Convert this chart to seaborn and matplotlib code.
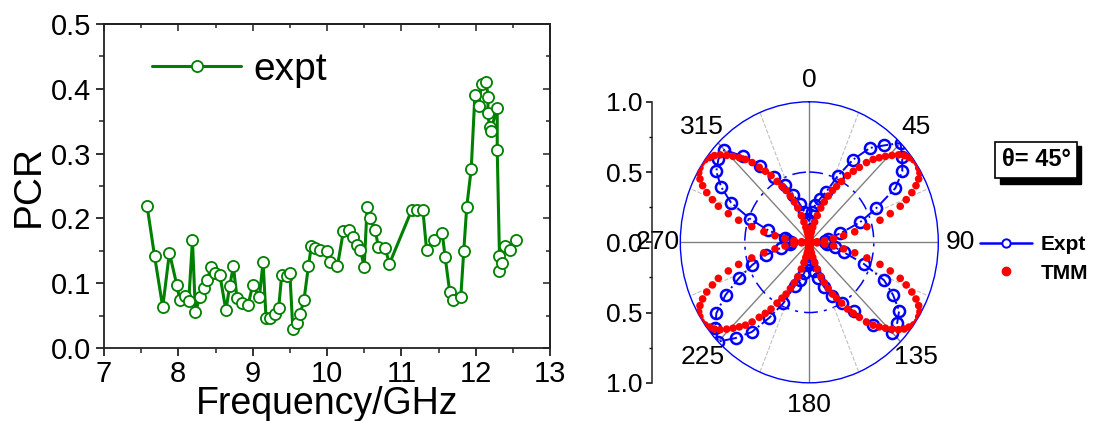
import numpy as np
import pandas as pd
import matplotlib
matplotlib.use("Agg")
import matplotlib.pyplot as plt
from matplotlib.lines import Line2D
from matplotlib.patches import Rectangle
from matplotlib.ticker import MultipleLocator, FixedLocator
import seaborn as sns

# ---------------- data: left panel ----------------
freq = [7.58, 7.68, 7.79, 7.88, 7.98, 8.02, 8.09, 8.14, 8.19, 8.23, 8.29, 8.35, 8.39, 8.44,
        8.49, 8.56, 8.64, 8.69, 8.74, 8.79, 8.85, 8.94, 9.00, 9.09, 9.14, 9.18, 9.23, 9.30,
        9.35, 9.39, 9.46, 9.50, 9.54, 9.59, 9.64, 9.69, 9.75, 9.79, 9.84, 9.91, 10.00, 10.04,
        10.14, 10.22, 10.29, 10.35, 10.40, 10.45, 10.50, 10.54, 10.58, 10.65, 10.69, 10.78,
        10.84, 11.14, 11.21, 11.29, 11.34, 11.44, 11.55, 11.59, 11.65, 11.70, 11.80, 11.84,
        11.88, 11.94, 11.99, 12.04, 12.08, 12.14, 12.17, 12.16, 12.19, 12.20, 12.29, 12.29,
        12.32, 12.32, 12.35, 12.40, 12.46, 12.54]
pcr = [0.219, 0.142, 0.063, 0.147, 0.097, 0.074, 0.080, 0.073, 0.166, 0.055, 0.079, 0.093,
       0.105, 0.125, 0.115, 0.112, 0.058, 0.095, 0.126, 0.077, 0.070, 0.067, 0.097, 0.079,
       0.133, 0.046, 0.046, 0.053, 0.062, 0.112, 0.111, 0.116, 0.030, 0.039, 0.053, 0.074,
       0.126, 0.158, 0.154, 0.151, 0.150, 0.133, 0.126, 0.180, 0.182, 0.171, 0.159, 0.151,
       0.125, 0.218, 0.200, 0.182, 0.156, 0.155, 0.130, 0.213, 0.213, 0.213, 0.151, 0.166,
       0.177, 0.140, 0.087, 0.074, 0.079, 0.150, 0.218, 0.276, 0.391, 0.373, 0.408, 0.410,
       0.387, 0.362, 0.341, 0.335, 0.370, 0.306, 0.142, 0.119, 0.131, 0.157, 0.152, 0.166]
x_ticks = [7, 8, 9, 10, 11, 12, 13]
y_ticks = [0.0, 0.1, 0.2, 0.3, 0.4, 0.5]

# ---------------- data: polar panel ----------------
expt_angle = list(range(0, 360, 5))
expt_r = [0.15, 0.22, 0.27, 0.32, 0.38, 0.52, 0.68, 0.82, 0.90, 1.00, 0.94, 0.88, 0.77, 0.57, 0.42, 0.25, 0.15, 0.12,
          0.12, 0.14, 0.20, 0.28, 0.45, 0.64, 0.75, 0.85, 0.89, 0.91, 0.77, 0.60, 0.50, 0.42, 0.34, 0.26, 0.21, 0.15,
          0.12, 0.16, 0.22, 0.28, 0.33, 0.48, 0.62, 0.78, 0.89, 1.00, 0.95, 0.88, 0.75, 0.60, 0.47, 0.35, 0.22, 0.15,
          0.14, 0.17, 0.19, 0.33, 0.49, 0.67, 0.79, 0.88, 0.92, 0.93, 0.80, 0.66, 0.54, 0.45, 0.36, 0.28, 0.22, 0.17]

tmm_angle = list(range(0, 360, 2))
tmm_r_q1 = [0.00, 0.01, 0.02, 0.03, 0.04, 0.06, 0.08, 0.11, 0.15, 0.20, 0.26, 0.31, 0.36, 0.41, 0.45,
            0.50, 0.56, 0.61, 0.66, 0.72, 0.77, 0.81, 0.85, 0.89, 0.93, 0.96, 0.98, 1.00, 1.01, 1.00,
            0.99, 0.96, 0.92, 0.87, 0.81, 0.75, 0.66, 0.57, 0.46, 0.36, 0.27, 0.19, 0.12, 0.06, 0.02]
tmm_r_q2 = [0.00, 0.02, 0.06, 0.12, 0.19, 0.27, 0.36, 0.46, 0.57, 0.66, 0.75, 0.81, 0.87, 0.92, 0.96,
            0.99, 1.00, 1.01, 1.00, 0.98, 0.96, 0.93, 0.89, 0.85, 0.81, 0.77, 0.72, 0.66, 0.61, 0.56,
            0.50, 0.45, 0.41, 0.36, 0.31, 0.26, 0.20, 0.15, 0.11, 0.08, 0.06, 0.04, 0.03, 0.02, 0.01]
tmm_r_q3 = [0.00, 0.01, 0.02, 0.03, 0.04, 0.06, 0.08, 0.11, 0.15, 0.20, 0.26, 0.31, 0.36, 0.41, 0.45,
            0.50, 0.56, 0.61, 0.66, 0.72, 0.77, 0.81, 0.85, 0.89, 0.93, 0.96, 0.98, 1.00, 1.01, 1.00,
            0.99, 0.96, 0.92, 0.87, 0.81, 0.75, 0.66, 0.57, 0.46, 0.36, 0.27, 0.19, 0.12, 0.06, 0.02]
tmm_r_q4 = [0.00, 0.02, 0.06, 0.12, 0.19, 0.27, 0.36, 0.46, 0.57, 0.66, 0.75, 0.81, 0.87, 0.92, 0.96,
            0.99, 1.00, 1.01, 1.00, 0.98, 0.96, 0.93, 0.89, 0.85, 0.81, 0.77, 0.72, 0.66, 0.61, 0.56,
            0.50, 0.45, 0.41, 0.36, 0.31, 0.26, 0.20, 0.15, 0.11, 0.08, 0.06, 0.04, 0.03, 0.02, 0.01]
tmm_r = tmm_r_q1 + tmm_r_q2 + tmm_r_q3 + tmm_r_q4

theta_ticks = [0, 45, 90, 135, 180, 225, 270, 315]
theta_labels = ["0", "45", "90", "135", "180", "225", "270", "315"]
r_ticks = [-1.0, -0.5, 0.0, 0.5, 1.0]
r_labels = ["1.0", "0.5", "0.0", "0.5", "1.0"]

# ---------------- style ----------------
sns.set_theme(style="ticks")
plt.rcParams["font.family"] = ["Liberation Sans", "DejaVu Sans"]
plt.rcParams["axes.linewidth"] = 1.3
plt.rcParams["text.color"] = "black"
plt.rcParams["axes.labelcolor"] = "black"
plt.rcParams["xtick.color"] = "black"
plt.rcParams["ytick.color"] = "black"

W, H = 1102, 421
fig = plt.figure(figsize=(W / 100, H / 100), dpi=100)

def fx(px):
    return px / W

def fy(py):
    return 1 - py / H

# ---------------- left panel ----------------
ax = fig.add_axes([fx(104), fy(348), fx(550) - fx(104), fy(24) - fy(348)])
df = pd.DataFrame({"Frequency": freq, "PCR": pcr})
green = "#008000"
sns.lineplot(data=df, x="Frequency", y="PCR", ax=ax, sort=False, estimator=None,
             color=green, lw=2.2, marker="o", markersize=8, markerfacecolor="white",
             markeredgecolor=green, markeredgewidth=1.3, label="expt")
ax.set_xlim(7, 13)
ax.set_ylim(0, 0.5)
ax.set_xticks(x_ticks)
ax.set_yticks(y_ticks)
ax.set_yticklabels([f"{v:.1f}" for v in y_ticks])
ax.xaxis.set_minor_locator(MultipleLocator(0.5))
ax.yaxis.set_minor_locator(MultipleLocator(0.05))
ax.tick_params(which="major", direction="out", length=6, width=1.3, labelsize=21,
               colors="#222222", labelcolor="black", pad=3)
ax.tick_params(which="minor", direction="out", length=3.5, width=1.1, colors="#222222")
for s in ax.spines.values():
    s.set_color("#222222")
    s.set_linewidth(1.3)
sx = ax.secondary_xaxis("top")
sx.set_xticks(x_ticks)
sx.xaxis.set_minor_locator(MultipleLocator(0.5))
sx.tick_params(which="both", direction="in", labeltop=False, colors="#222222", width=1.1)
sx.tick_params(which="major", length=5)
sx.tick_params(which="minor", length=3)
sy = ax.secondary_yaxis("right")
sy.set_yticks(y_ticks)
sy.yaxis.set_minor_locator(MultipleLocator(0.05))
sy.tick_params(which="both", direction="in", labelright=False, colors="#222222", width=1.1)
sy.tick_params(which="major", length=5)
sy.tick_params(which="minor", length=3)
ax.set_xlabel("Frequency/GHz", fontsize=27, labelpad=-2, color="black")
ax.set_ylabel("PCR", fontsize=28, labelpad=3, color="black")
leg = ax.legend(loc="center left", bbox_to_anchor=((152 - 104) / 446, 1 - (70 - 24) / 324),
                frameon=False, fontsize=28, handlelength=2.3, handletextpad=0.3,
                borderpad=0, borderaxespad=0)
for t in leg.get_texts():
    t.set_color("black")

# ---------------- polar panel ----------------
axp = fig.add_axes([fx(680.3), fy(382.8), (938.3 - 680.3) / W, (382.8 - 101.8) / H],
                   projection="polar")
axp.set_theta_zero_location("N")
axp.set_theta_direction(-1)

# light dashed guide lines at 22.5 deg offsets
for a in [22.5, 67.5, 112.5, 157.5, 202.5, 247.5, 292.5, 337.5]:
    axp.plot([np.deg2rad(a)] * 2, [0.5, 1.0], color="#c0c0c0", ls="--", lw=0.8, zorder=1)

th_e = np.deg2rad(np.array(expt_angle + expt_angle[:1]))
r_e = np.array(expt_r + expt_r[:1])
sns.lineplot(x=th_e, y=r_e, ax=axp, sort=False, estimator=None, color="blue", lw=1.4,
             linestyle="-.", marker="o", markersize=8, markerfacecolor="none",
             markeredgecolor="blue", markeredgewidth=1.8, zorder=3)
sns.scatterplot(x=np.deg2rad(np.array(tmm_angle)), y=np.array(tmm_r), ax=axp,
                color="red", s=30, edgecolor="none", zorder=4)
axp.set_xlabel("")
axp.set_ylabel("")
axp.set_ylim(0, 1)
axp.set_thetagrids(theta_ticks, labels=theta_labels, fontsize=19)
axp.set_rgrids([0.5])
axp.set_yticklabels([])
axp.xaxis.grid(True, color="#808080", ls="-", lw=1.0)
axp.yaxis.grid(True, color="blue", ls=(0, (9, 4, 2, 4)), lw=1.1)
axp.tick_params(axis="x", length=0, pad=9, labelsize=19, labelcolor="black")
axp.spines["polar"].set_color("blue")
axp.spines["polar"].set_linewidth(1.0)
axp.set_facecolor("white")
axp.set_aspect("auto")
if axp.get_legend() is not None:
    axp.get_legend().remove()

# radial scale on the left
axr = fig.add_axes([fx(652), fy(382.8), 0.001, (382.8 - 101.8) / H])
axr.set_ylim(-1, 1)
axr.set_xticks([])
axr.set_yticks(r_ticks)
axr.set_yticklabels(r_labels)
axr.yaxis.set_minor_locator(FixedLocator([-0.75, -0.25, 0.25, 0.75]))
axr.tick_params(axis="y", which="major", direction="out", length=4, width=1.1, labelsize=19,
                pad=3, labelcolor="black")
axr.tick_params(axis="y", which="minor", direction="out", length=2.5, width=1.0)
for k in ["top", "right", "bottom"]:
    axr.spines[k].set_visible(False)
axr.spines["left"].set_linewidth(1.1)
axr.spines["left"].set_color("#222222")
axr.patch.set_visible(False)

# theta box with shadow
fig.patches.append(Rectangle((fx(1000), fy(184)), 81 / W, 38 / H, transform=fig.transFigure,
                             facecolor="black", edgecolor="black", zorder=5))
fig.patches.append(Rectangle((fx(995), fy(178.3)), 81.7 / W, 36.6 / H, transform=fig.transFigure,
                             facecolor="white", edgecolor="black", lw=1.2, zorder=6))
fig.text(fx(1036), fy(160), "θ= 45°", ha="center", va="center", fontsize=17,
         fontweight="bold", color="black", zorder=7)

# polar legend
handles = [Line2D([0], [0], color="blue", lw=1.8, marker="o", markersize=6,
                  markerfacecolor="white", markeredgecolor="blue", markeredgewidth=1.4),
           Line2D([0], [0], color="none", marker="o", markersize=6,
                  markerfacecolor="red", markeredgecolor="red")]
pleg = fig.legend(handles, ["Expt", "TMM"], loc="center left",
                  bbox_to_anchor=(fx(980), fy(259)), frameon=False,
                  prop={"size": 15, "weight": "bold"}, handlelength=2.5, handletextpad=0.4,
                  labelspacing=0.45, borderpad=0, borderaxespad=0)
for t in pleg.get_texts():
    t.set_color("black")

fig.savefig("out.png", dpi=100)
